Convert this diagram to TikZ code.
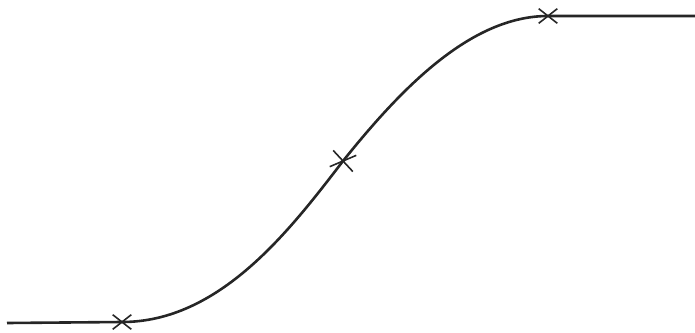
\documentclass[tikz,border=0pt]{standalone}
\usetikzlibrary{shapes.misc}
\begin{document}
\begin{tikzpicture}[x=1pt,y=-1pt,
  curve/.style={line width=2.6pt,color=black!85},
  xmark/.style={cross out,draw=black!85,line width=1.6pt,minimum width=17pt,minimum height=13pt,inner sep=0pt}]
\useasboundingbox (0,0) rectangle (695,332);
\coordinate (L) at (7,323);
\coordinate (R) at (695,16);
\node[xmark] (A) at (122,322) {};
\node[xmark,rotate=-12,minimum width=22pt,minimum height=15pt] (B) at (343,161) {};
\node[xmark] (C) at (548,16) {};
\draw[curve] (L) -- (A.center) .. controls (220,322) and (290,230) .. (B.center)
  .. controls (400,90) and (470,16) .. (C.center) -- (R);
\end{tikzpicture}
\end{document}
